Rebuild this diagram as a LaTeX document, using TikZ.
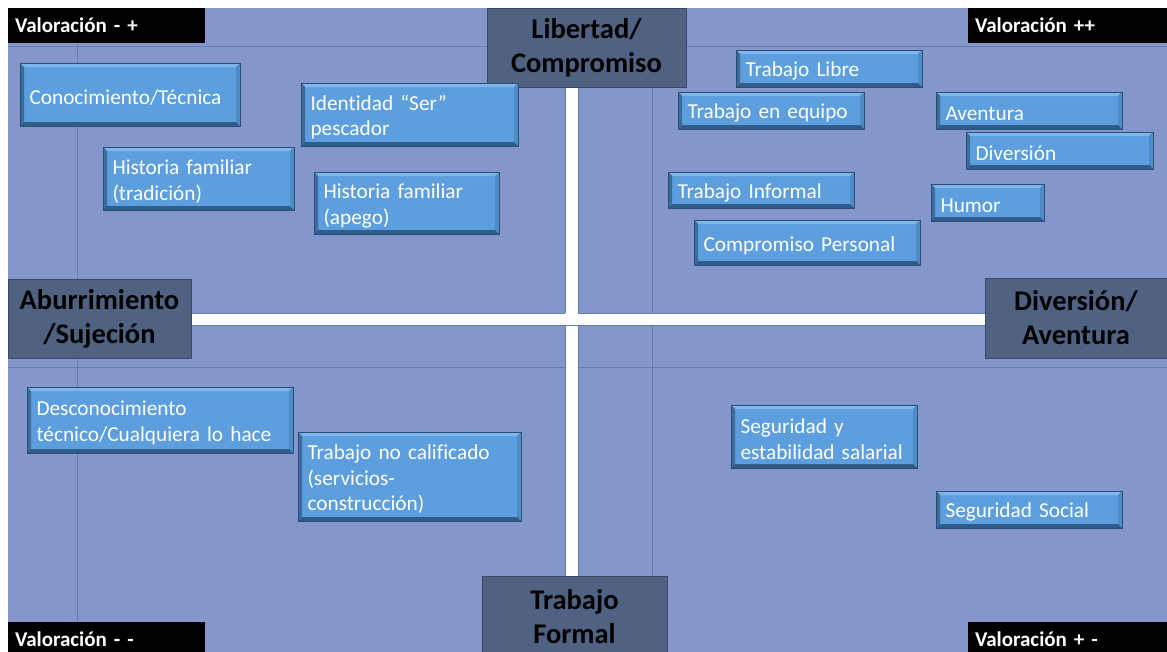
\documentclass[tikz,border=0pt]{standalone}
\usepackage{fontspec}
\setmainfont{Carlito}[Ligatures=CommonOff]
\definecolor{slidebg}{RGB}{133,151,202}
\definecolor{gridline}{RGB}{96,125,182}
\definecolor{boxblue}{RGB}{92,158,222}
\definecolor{bboxline}{RGB}{44,78,116}
\definecolor{bevtop}{RGB}{124,182,236}
\definecolor{bevright}{RGB}{78,140,200}
\definecolor{bevleft}{RGB}{60,108,156}
\definecolor{bevbottom}{RGB}{47,92,136}
\definecolor{axisfill}{RGB}{80,98,130}
\definecolor{axisline}{RGB}{58,72,100}
\def\bev{4pt}
\tikzset{
  bluebox/.style={draw=bboxline, line width=0.8pt, fill=boxblue, text=white,
    font=\fontsize{21.3}{25.7}\selectfont, align=left, inner xsep=9.5pt, inner ysep=1pt,
    execute at begin node={\rule{0pt}{20.5pt}},
    path picture={
      \fill[bevtop] (path picture bounding box.north west) -- (path picture bounding box.north east)
        -- ([xshift=-\bev,yshift=-\bev]path picture bounding box.north east)
        -- ([xshift=\bev,yshift=-\bev]path picture bounding box.north west) -- cycle;
      \fill[bevright] (path picture bounding box.north east) -- (path picture bounding box.south east)
        -- ([xshift=-\bev,yshift=\bev]path picture bounding box.south east)
        -- ([xshift=-\bev,yshift=-\bev]path picture bounding box.north east) -- cycle;
      \fill[bevleft] (path picture bounding box.north west) -- (path picture bounding box.south west)
        -- ([xshift=\bev,yshift=\bev]path picture bounding box.south west)
        -- ([xshift=\bev,yshift=-\bev]path picture bounding box.north west) -- cycle;
      \fill[bevbottom] (path picture bounding box.south west) -- (path picture bounding box.south east)
        -- ([xshift=-\bev,yshift=\bev]path picture bounding box.south east)
        -- ([xshift=\bev,yshift=\bev]path picture bounding box.south west) -- cycle;
    }},
  axisbox/.style={draw=axisline, line width=0.8pt, fill=axisfill, text=black,
    font=\bfseries\fontsize{28.5}{34}\selectfont, align=center, inner sep=0pt},
  vallabel/.style={fill=black, text=white, font=\bfseries\fontsize{21}{25}\selectfont,
    align=left, inner xsep=7pt, inner ysep=0pt},
  crossbar/.style={draw=gridline, line width=0.7pt, fill=white},
  gridrule/.style={draw=gridline, line width=1pt}
}
\begin{document}
\begin{tikzpicture}[x=1pt,y=-1pt]
\useasboundingbox (0,0) rectangle (1167,651);
\clip (0,0) rectangle (1167,651);
\fill[white] (0,0) rectangle (1167,651);
\fill[slidebg] (8,8) rectangle (1175,660);
% grid lines
\coordinate (gl1a) at (8,46);   \coordinate (gl1b) at (1175,46);
\coordinate (gl2a) at (8,367);  \coordinate (gl2b) at (1175,367);
\coordinate (gv1a) at (77,8);   \coordinate (gv1b) at (77,660);
\coordinate (gv2a) at (652,8);  \coordinate (gv2b) at (652,660);
\draw[gridrule] (gl1a) -- (gl1b);
\draw[gridrule] (gl2a) -- (gl2b);
\draw[gridrule] (gv1a) -- (gv1b);
\draw[gridrule] (gv2a) -- (gv2b);
% white cross
\draw[crossbar] (565,87) rectangle (578,576);
\draw[crossbar] (191,313) rectangle (985,325);
\fill[white] (564.6,313.6) rectangle (578.4,324.4);
\fill[white] (565.4,312.6) rectangle (577.6,325.4);
% axis boxes
\node[axisbox, minimum width=199, minimum height=79] (lib) at (586.5,47.5) {Libertad/\\Compromiso};
\node[axisbox, minimum width=183, minimum height=79] (abu) at (99.5,318.5) {Aburrimiento\\/Sujeción};
\node[axisbox, minimum width=182, minimum height=80] (div) at (1076,318) {Diversión/\\Aventura};
\node[axisbox, minimum width=185, minimum height=82] (tfo) at (574.5,617) {Trabajo\\Formal};
% valoration labels
\node[vallabel, minimum width=197, minimum height=35, text width=183] (vmp) at (106.5,25.5) {Valoración - +};
\node[vallabel, minimum width=199, minimum height=35, text width=185] (vpp) at (1067.5,25.5) {Valoración ++};
\node[vallabel, minimum width=197, minimum height=35, text width=183] (vmm) at (106.5,639.5) {Valoración - -};
\node[vallabel, minimum width=199, minimum height=35, text width=185] (vpm) at (1067.5,639.5) {Valoración + -};
% blue boxes
\node[bluebox, minimum width=220, minimum height=63, text width=201] (cono) at (130,94.5) {Conocimiento/Técnica};
\node[bluebox, minimum width=217, minimum height=63, text width=198] (iden) at (409.5,114.5) {Identidad “Ser”\\pescador};
\node[bluebox, minimum width=191, minimum height=63, text width=172] (histT) at (198.5,178.5) {Historia familiar\\(tradición)};
\node[bluebox, minimum width=185, minimum height=62, text width=166] (histA) at (406.5,203) {Historia familiar\\(apego)};
\node[bluebox, minimum width=186, minimum height=37, text width=167] (tlib) at (829,68.5) {Trabajo Libre};
\node[bluebox, minimum width=186, minimum height=37, text width=167] (tequ) at (771,110.5) {Trabajo en equipo};
\node[bluebox, minimum width=186, minimum height=37, text width=167] (aven) at (1029,110.5) {Aventura};
\node[bluebox, minimum width=187, minimum height=37, text width=168] (dive) at (1059.5,150.5) {Diversión};
\node[bluebox, minimum width=186, minimum height=36, text width=167] (tinf) at (761,190) {Trabajo Informal};
\node[bluebox, minimum width=113, minimum height=37, text width=94] (humo) at (987.5,202.5) {Humor};
\node[bluebox, minimum width=226, minimum height=45, text width=207] (comp) at (807,242.5) {Compromiso Personal};
\node[bluebox, minimum width=266, minimum height=66, text width=247] (desc) at (160,420) {Desconocimiento\\técnico/Cualquiera lo hace};
\node[bluebox, minimum width=223, minimum height=89, text width=204] (tnoc) at (409.5,476.5) {Trabajo no calificado\\(servicios-\\construcción)};
\node[bluebox, minimum width=186, minimum height=63, text width=167] (segE) at (824,436.5) {Seguridad y\\estabilidad salarial};
\node[bluebox, minimum width=186, minimum height=37, text width=167] (segS) at (1029,509.5) {Seguridad Social};
\end{tikzpicture}
\end{document}
